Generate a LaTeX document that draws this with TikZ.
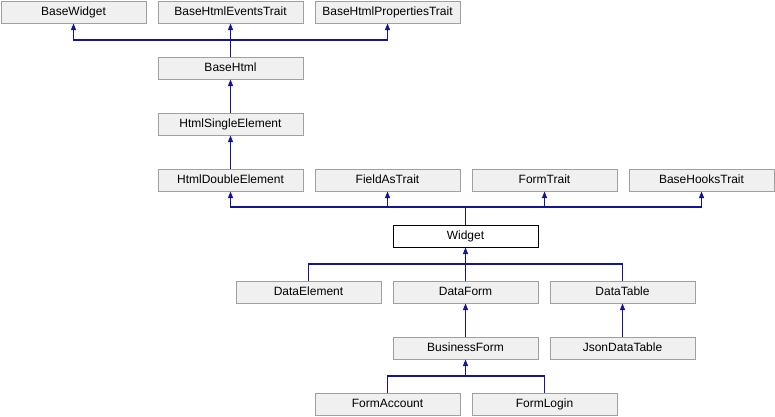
\documentclass[tikz,border=0pt]{standalone}
\usepackage{fontspec}
\setmainfont{Liberation Sans}
\usetikzlibrary{arrows.meta}
\definecolor{edgeblue}{RGB}{20,20,150}
\definecolor{boxfill}{RGB}{240,240,240}
\definecolor{boxline}{RGB}{160,160,160}
\tikzset{
  cls/.style={draw=boxline, fill=boxfill, line width=1pt, minimum width=145pt, minimum height=22pt, inner sep=0pt, text height=8.6pt, text depth=2.2pt, font=\fontsize{12}{13}\selectfont, anchor=north west},
  cur/.style={cls, draw=black, fill=white},
  edge/.style={draw=edgeblue, line width=1.1pt},
  inh/.style={edge, {Triangle[length=6.5pt,width=5pt]}-},
}
\begin{document}
\begin{tikzpicture}[x=1pt,y=-1pt]
\useasboundingbox (0,0) rectangle (775,416);
% row 1
\node[cls] (bw) at (0.5,0.5) {BaseWidget};
\node[cls] (bhe) at (157.5,0.5) {BaseHtmlEventsTrait};
\node[cls] (bhp) at (314.5,0.5) {BaseHtmlPropertiesTrait};
% row 2
\node[cls] (bh) at (157.5,56.5) {BaseHtml};
% row 3
\node[cls] (hse) at (157.5,112.5) {HtmlSingleElement};
% row 4
\node[cls] (hde) at (157.5,168.5) {HtmlDoubleElement};
\node[cls] (fat) at (314.5,168.5) {FieldAsTrait};
\node[cls] (ft) at (471.5,168.5) {FormTrait};
\node[cls] (bht) at (628.5,168.5) {BaseHooksTrait};
% row 5
\node[cur] (w) at (392.5,224.5) {Widget};
% row 6
\node[cls] (de) at (235.5,280.5) {DataElement};
\node[cls] (df) at (392.5,280.5) {DataForm};
\node[cls] (dt) at (549.5,280.5) {DataTable};
% row 7
\node[cls] (bf) at (392.5,336.5) {BusinessForm};
\node[cls] (jdt) at (549.5,336.5) {JsonDataTable};
% row 8
\node[cls] (fa) at (314.5,392.5) {FormAccount};
\node[cls] (fl) at (471.5,392.5) {FormLogin};
% bus levels
\coordinate (y1) at (0,40);
\coordinate (y4) at (0,207);
\coordinate (y5) at (0,264);
\coordinate (y7) at (0,376);
% edges
\draw[inh] (bw.south) -- (bw.south |- y1) -- (bh.north |- y1) -- (bh.north);
\draw[inh] (bhe.south) -- (bh.north);
\draw[inh] (bhp.south) -- (bhp.south |- y1) -- (bh.north |- y1);
\draw[inh] (bh.south) -- (hse.north);
\draw[inh] (hse.south) -- (hde.north);
\draw[inh] (hde.south) -- (hde.south |- y4) -- (w.north |- y4) -- (w.north);
\draw[inh] (fat.south) -- (fat.south |- y4);
\draw[inh] (ft.south) -- (ft.south |- y4);
\draw[inh] (bht.south) -- (bht.south |- y4) -- (w.north |- y4);
\draw[inh] (w.south) -- (df.north);
\draw[edge] (de.north) -- (de.north |- y5) -- (dt.north |- y5) -- (dt.north);
\draw[inh] (df.south) -- (bf.north);
\draw[inh] (dt.south) -- (jdt.north);
\draw[inh] (bf.south) -- (bf.south |- y7) -- (fa.north |- y7) -- (fa.north);
\draw[edge] (bf.south |- y7) -- (fl.north |- y7) -- (fl.north);
\end{tikzpicture}
\end{document}
